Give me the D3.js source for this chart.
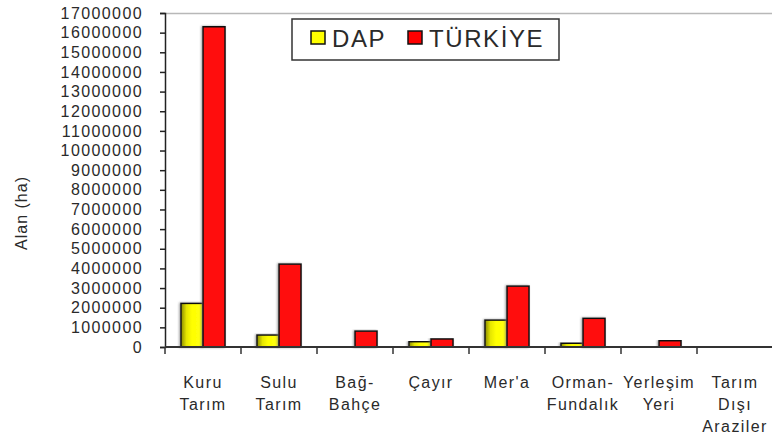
<!DOCTYPE html>
<html>
<head>
<meta charset="utf-8">
<script src="https://cdn.jsdelivr.net/npm/d3@7"></script>
<style>
	body { margin: 0; background: #fff; }
	text { font-family: "Liberation Sans", Arial, sans-serif; fill: #2a2a2a; }
</style>
</head>
<body>
<svg id="chart" width="772" height="435"></svg>
<script>
// kategori etiketleri (satırlara bölünmüş)
var categories = ["Kuru Tarım", "Sulu Tarım", "Bağ-Bahçe", "Çayır", "Mer'a", "Orman-Fundalık", "Yerleşim Yeri", "Tarım Dışı Araziler"];
var categoryLines = [["Kuru", "Tarım"], ["Sulu", "Tarım"], ["Bağ-", "Bahçe"], ["Çayır"], ["Mer'a"], ["Orman-", "Fundalık"], ["Yerleşim", "Yeri"], ["Tarım", "Dışı", "Araziler"]];
var series = ["DAP", "TÜRKİYE"];
var dapValues = [2220000, 610000, 20000, 270000, 1370000, 190000, 30000, 10000];
var turkiyeValues = [16300000, 4220000, 810000, 410000, 3100000, 1460000, 320000, 20000];
var yTicks = [0, 1000000, 2000000, 3000000, 4000000, 5000000, 6000000, 7000000, 8000000, 9000000,
	10000000, 11000000, 12000000, 13000000, 14000000, 15000000, 16000000, 17000000];
var colors = { "DAP": "url(#yellowGrad)", "TÜRKİYE": "#ff0d0d" };
var legendColors = { "DAP": "#ffff00", "TÜRKİYE": "#ff0000" };

var margin = { top: 13, left: 165, right: 773, bottom: 347 };
var svg = d3.select("#chart");

var defs = svg.append("defs");
var grad = defs.append("linearGradient").attr("id", "yellowGrad")
	.attr("x1", "0%").attr("x2", "100%").attr("y1", "0%").attr("y2", "0%");
grad.append("stop").attr("offset", "0%").attr("stop-color", "#8a8a00");
grad.append("stop").attr("offset", "25%").attr("stop-color", "#e6e600");
grad.append("stop").attr("offset", "50%").attr("stop-color", "#ffff00");
grad.append("stop").attr("offset", "100%").attr("stop-color", "#ffff10");
var shadow = defs.append("filter").attr("id", "shadow")
	.attr("x", "-30%").attr("y", "-10%").attr("width", "160%").attr("height", "120%");
shadow.append("feDropShadow").attr("dx", -1).attr("dy", 0).attr("stdDeviation", 1.2)
	.attr("flood-color", "#777").attr("flood-opacity", 0.7);

var x0 = d3.scaleBand().domain(categories).range([margin.left, margin.right])
	.paddingInner(0.42).paddingOuter(0.21);
var step = x0.step();
var x1 = d3.scaleBand().domain(series).range([0, x0.bandwidth()]);
var y = d3.scaleLinear().domain([0, 17000000]).range([margin.bottom, margin.top]);

// çerçevenin üst çizgisi
svg.append("line")
	.attr("x1", margin.left).attr("x2", 772)
	.attr("y1", margin.top + 0.5).attr("y2", margin.top + 0.5)
	.attr("stroke", "#b8b8b8").attr("stroke-width", 1.5);

// y ekseni
var yAxis = svg.append("g")
	.attr("transform", "translate(" + margin.left + ",0)")
	.call(d3.axisLeft(y).tickValues(yTicks).tickSize(5).tickPadding(17).tickFormat(d3.format("d")));
yAxis.select(".domain").attr("stroke", "#222").attr("stroke-width", 1.5);
yAxis.selectAll(".tick line").attr("stroke", "#222").attr("stroke-width", 1.5);
yAxis.selectAll(".tick text")
	.style("font-family", "'Liberation Sans', Arial, sans-serif")
	.style("font-size", "16px").style("letter-spacing", "1.4px")
	.attr("fill", "#2a2a2a");

svg.append("text")
	.attr("transform", "translate(27,213) rotate(-90)")
	.attr("text-anchor", "middle")
	.style("font-size", "16px").style("letter-spacing", "1px")
	.text("Alan (ha)");

// çubuklar
var data = categories.map(function(c, i) {
	return { cat: c, values: [{ s: "DAP", v: dapValues[i] }, { s: "TÜRKİYE", v: turkiyeValues[i] }] };
});
var groups = svg.selectAll(".group").data(data).enter().append("g")
	.attr("class", "group")
	.attr("transform", function(d) { return "translate(" + x0(d.cat) + ",0)"; });
groups.selectAll("rect").data(function(d) { return d.values; }).enter().append("rect")
	.attr("x", function(d) { return x1(d.s); })
	.attr("y", function(d) { return y(d.v); })
	.attr("width", x1.bandwidth())
	.attr("height", function(d) { return y(0) - y(d.v); })
	.attr("fill", function(d) { return colors[d.s]; })
	.attr("stroke", "#111").attr("stroke-width", 1.5)
	.attr("filter", "url(#shadow)");

// x ekseni
svg.append("line")
	.attr("x1", margin.left).attr("x2", 772)
	.attr("y1", margin.bottom).attr("y2", margin.bottom)
	.attr("stroke", "#333").attr("stroke-width", 2);
var xTickPos = d3.range(categories.length + 1).map(function(i) { return margin.left + i * step; });
svg.selectAll(".xtick").data(xTickPos).enter().append("line")
	.attr("class", "xtick")
	.attr("x1", function(d) { return d; }).attr("x2", function(d) { return d; })
	.attr("y1", margin.bottom).attr("y2", margin.bottom + 7)
	.attr("stroke", "#333").attr("stroke-width", 1.5);

var labels = svg.selectAll(".xlabel").data(categories).enter().append("text")
	.attr("class", "xlabel")
	.attr("text-anchor", "middle")
	.style("font-size", "16px").style("letter-spacing", "1.4px");
labels.each(function(d, i) {
	var t = d3.select(this);
	categoryLines[i].forEach(function(line, j) {
		t.append("tspan")
			.attr("x", x0(d) + x0.bandwidth() / 2)
			.attr("y", 388 + j * 22)
			.text(line);
	});
});

// lejant
var legend = svg.append("g");
legend.append("rect")
	.attr("x", 292).attr("y", 19).attr("width", 267).attr("height", 41)
	.attr("fill", "#fff").attr("stroke", "#333").attr("stroke-width", 1.5);
var legendX = [311, 408];
series.forEach(function(s, i) {
	legend.append("rect")
		.attr("x", legendX[i]).attr("y", 31).attr("width", 14).attr("height", 13)
		.attr("fill", legendColors[s]).attr("stroke", "#111").attr("stroke-width", 1.5);
	legend.append("text")
		.attr("x", legendX[i] + 21).attr("y", 47)
		.style("font-size", "24px").style("letter-spacing", "1.6px")
		.text(s);
});
</script>
</body>
</html>
